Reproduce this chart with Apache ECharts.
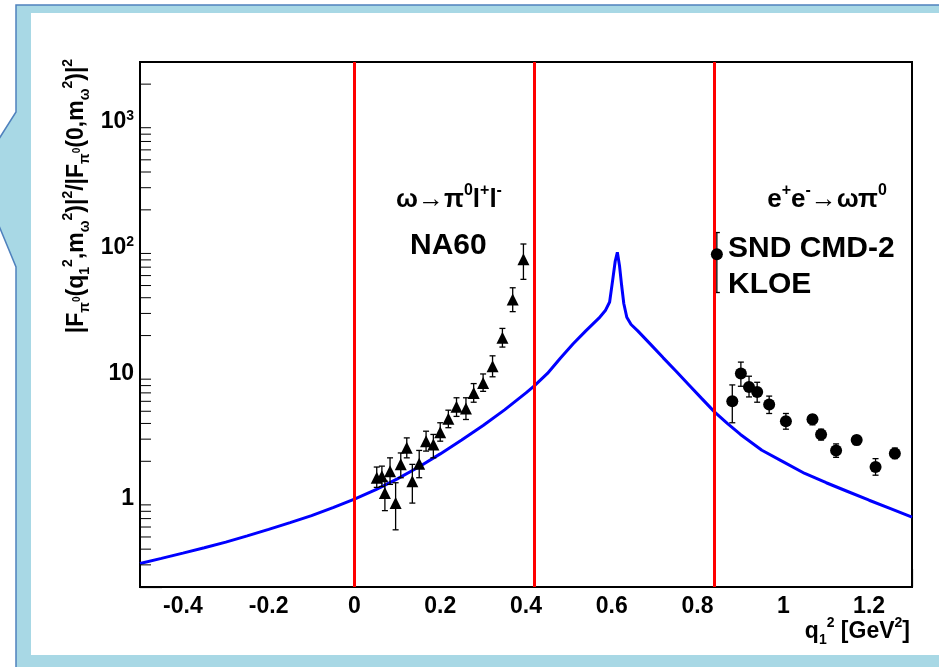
<!DOCTYPE html>
<html><head><meta charset="utf-8">
<script src="https://cdn.jsdelivr.net/npm/echarts@6/dist/echarts.min.js"></script>
<style>html,body{margin:0;padding:0;background:#fff;overflow:hidden}#c{width:939px;height:667px}</style>
</head><body><div id="c"></div>
<script>
// ---- Data ----
const curveX = [-0.5,-0.45,-0.4,-0.35,-0.3,-0.25,-0.2,-0.15,-0.1,-0.05,0,0.05,0.1,0.15,0.2,0.25,0.3,0.35,0.4,0.42,0.45,0.48,0.51,0.54,0.57,0.585,0.595,0.602,0.608,0.613,0.618,0.623,0.628,0.635,0.645,0.66,0.69,0.72,0.75,0.78,0.81,0.84,0.87,0.9,0.95,1.0,1.05,1.1,1.15,1.2,1.25,1.3];
const curveY = [0.308,0.338,0.372,0.41,0.455,0.51,0.575,0.65,0.74,0.855,1.0,1.19,1.45,1.80,2.29,2.95,3.85,5.13,7.0,8.0,10.0,13.2,17.2,21.9,27.5,31.6,37,55,78,92,72,50,36,28,24.5,21.9,17.1,13.3,10.4,8.1,6.3,4.92,3.98,3.27,2.45,1.98,1.6,1.35,1.15,0.98,0.84,0.72];

const na60X  = [0.052,0.064,0.071,0.083,0.096,0.108,0.122,0.135,0.151,0.167,0.184,0.200,0.219,0.238,0.260,0.278,0.300,0.322,0.345,0.369,0.394];
const na60Y  = [1.48,1.52,1.12,1.67,0.93,1.89,2.56,1.39,1.91,2.89,2.72,3.41,4.35,5.42,5.27,7.0,8.4,11.4,19.2,38.8,81];
const na60Lo = [1.24,1.26,0.81,1.31,0.57,1.48,2.13,0.93,1.48,2.41,2.13,2.89,3.70,4.55,4.30,5.9,7.2,9.4,16.2,31,56];
const na60Hi = [1.80,1.83,1.39,2.13,1.35,2.33,3.07,1.89,2.44,3.47,3.27,4.05,5.10,6.40,6.40,8.3,9.9,13.8,22.8,48,107];

const eeX  = [0.845,0.881,0.901,0.920,0.939,0.967,1.006,1.068,1.088,1.123,1.171,1.215,1.260];
const eeY  = [88.5,6.0,10.0,7.8,7.1,5.66,4.17,4.31,3.27,2.44,2.95,1.80,2.31];
const eeLo = [44,4.05,7.9,6.5,5.9,4.8,3.6,3.9,2.95,2.15,2.7,1.55,2.1];
const eeHi = [132,8.1,12.3,9.5,8.5,6.6,4.8,4.7,3.6,2.75,3.2,2.1,2.55];

const redLinesX = [0, 0.417, 0.838];
const yMajorLabels = {1:'1', 10:'10', 100:'10{s|2}', 1000:'10{s|3}'};
const yMinorTicks = [0.2,0.3,0.4,0.5,0.6,0.7,0.8,0.9,2,3,4,5,6,7,8,9,20,30,40,50,60,70,80,90,200,300,400,500,600,700,800,900,2000];

const texts = {
  yTitle: '|F{sb|π}{s0|0}(q{sb|1}{sp|2},m{sb|ω}{sp|2})|{sp|2}/|F{sb|π}{s0|0}(0,m{sb|ω}{sp|2})|{sp|2}',
  xTitle: 'q{sb|1}{sp|2} [GeV{sp|2}]',
  decay: 'ω→π{sp|0}l{sp|+}l{sp|-}',
  na60: 'NA60',
  ee: 'e{sp|+}e{sp|-}→ωπ{sp|0}',
  snd: 'SND CMD-2',
  kloe: 'KLOE'
};

// ---- Chart ----
const FONT = 'Liberation Sans';
function rs(fs, va, lh) { return {fontSize: fs, fontFamily: FONT, fontWeight: 'bold', fill: '#000', color: '#000', verticalAlign: va, lineHeight: lh || fs}; }

function textEl(x, y, text, size, align, extra) {
  const s = Math.round(size * 0.62), s0 = Math.round(size * 0.45);
  return Object.assign({
    type: 'text', x: x, y: y, z: 50, silent: true,
    style: {text: text, fontSize: size, fontFamily: FONT, fontWeight: 'bold', fill: '#000',
            align: align, verticalAlign: 'middle', lineHeight: Math.round(size * 1.35),
            rich: {sp: rs(s,'top',s), sb: rs(s,'bottom',s), s0: rs(s0,'middle',s0)}}
  }, extra || {});
}

const chart = echarts.init(document.getElementById('c'));
const errStyle = {stroke: '#000', lineWidth: 1.3};
function errRender(params, api) {
  const x = api.value(0);
  const p1 = api.coord([x, api.value(2)]);
  const p2 = api.coord([x, api.value(1)]);
  const c = 3;
  return {type: 'group', children: [
    {type: 'line', shape: {x1: p1[0], y1: p1[1], x2: p2[0], y2: p2[1]}, style: errStyle},
    {type: 'line', shape: {x1: p1[0]-c, y1: p1[1], x2: p1[0]+c, y2: p1[1]}, style: errStyle},
    {type: 'line', shape: {x1: p2[0]-c, y1: p2[1], x2: p2[0]+c, y2: p2[1]}, style: errStyle}
  ]};
}

const option = {
  animation: false,
  backgroundColor: '#fff',
  grid: {left: 140, right: 27, top: 62, bottom: 80, show: true, borderColor: '#000', borderWidth: 2, backgroundColor: '#fff', z: 1},
  xAxis: {
    type: 'value', min: -0.5, max: 1.3, splitNumber: 9,
    axisLine: {show: true, onZero: false, lineStyle: {color: '#000', width: 2}},
    axisTick: {show: true, inside: true, length: 18, lineStyle: {color: '#000', width: 1.2}},
    minorTick: {show: true, splitNumber: 4, length: 9, lineStyle: {color: '#000', width: 1}},
    splitLine: {show: false},
    axisLabel: {margin: 8, color: '#000', fontFamily: FONT, fontWeight: 'bold', fontSize: 23,
      formatter: function (v) { return Math.abs(v*5 - Math.round(v*5)) < 1e-6 ? String(Math.round(v*10)/10) : ''; }}
  },
  yAxis: {
    type: 'log', logBase: 10, min: 0.2, max: 3000,
    axisLine: {show: true, onZero: false, lineStyle: {color: '#000', width: 2}},
    axisTick: {show: true, inside: true, length: 22, lineStyle: {color: '#000', width: 1.2}},
    splitLine: {show: false},
    axisLabel: {margin: 6, color: '#000', fontFamily: FONT, fontWeight: 'bold', fontSize: 23, lineHeight: 26,
      rich: {s: {fontSize: 14, fontFamily: FONT, fontWeight: 'bold', color: '#000', verticalAlign: 'top', lineHeight: 14}},
      formatter: function (v) { const r = Math.round(v); return (Math.abs(v - r) < 1e-6 && yMajorLabels[r]) ? yMajorLabels[r] : ''; }}
  },
  graphic: [
    {type: 'polygon', z: -10, silent: true,
     shape: {points: [[16,5],[950,5],[950,680],[16,680],[16,267],[-10,204],[-10,153],[16,112]]},
     style: {fill: '#a8d8e5', stroke: '#4f81bd', lineWidth: 1.5}},
    {type: 'rect', z: -9, silent: true, shape: {x: 31, y: 13, width: 920, height: 642}, style: {fill: '#fff'}},
    textEl(77, 196, texts.yTitle, 23, 'center', {rotation: Math.PI/2}),
    textEl(910, 632, texts.xTitle, 23, 'right'),
    textEl(449, 200, texts.decay, 26, 'center'),
    textEl(410, 246, texts.na60, 30, 'left'),
    textEl(827, 200, texts.ee, 26, 'center'),
    textEl(728, 249, texts.snd, 30, 'left'),
    textEl(728, 285, texts.kloe, 30, 'left')
  ],
  series: [
    {type: 'line', z: 2, data: curveX.map((x, i) => [x, curveY[i]]), showSymbol: false, symbol: 'none',
     lineStyle: {color: '#0000ff', width: 3}, clip: true,
     markLine: {silent: true, symbol: 'none', label: {show: false}, animation: false,
       lineStyle: {color: '#ff0000', width: 3, type: 'solid'},
       data: redLinesX.map(v => ({xAxis: v}))}},
    {type: 'custom', z: 3, clip: false, encode: {x: 0, y: 1},
     data: yMinorTicks.map(v => [-0.5, v]),
     renderItem: function (params, api) {
       const p = api.coord([api.value(0), api.value(1)]);
       return {type: 'line', shape: {x1: p[0], y1: p[1], x2: p[0] + 11, y2: p[1]}, style: {stroke: '#000', lineWidth: 1}};
     }},
    {type: 'custom', z: 4, clip: false, encode: {x: 0, y: [1, 2]},
     data: na60X.map((x, i) => [x, na60Lo[i], na60Hi[i]]), renderItem: errRender},
    {type: 'custom', z: 4, clip: false, encode: {x: 0, y: [1, 2]},
     data: eeX.map((x, i) => [x, eeLo[i], eeHi[i]]), renderItem: errRender},
    {type: 'scatter', z: 5, symbol: 'triangle', symbolSize: 12, itemStyle: {color: '#000', opacity: 1},
     data: na60X.map((x, i) => [x, na60Y[i]])},
    {type: 'scatter', z: 5, symbol: 'circle', symbolSize: 12, itemStyle: {color: '#000', opacity: 1},
     data: eeX.map((x, i) => [x, eeY[i]])}
  ]
};
chart.setOption(option);
</script>
</body></html>
